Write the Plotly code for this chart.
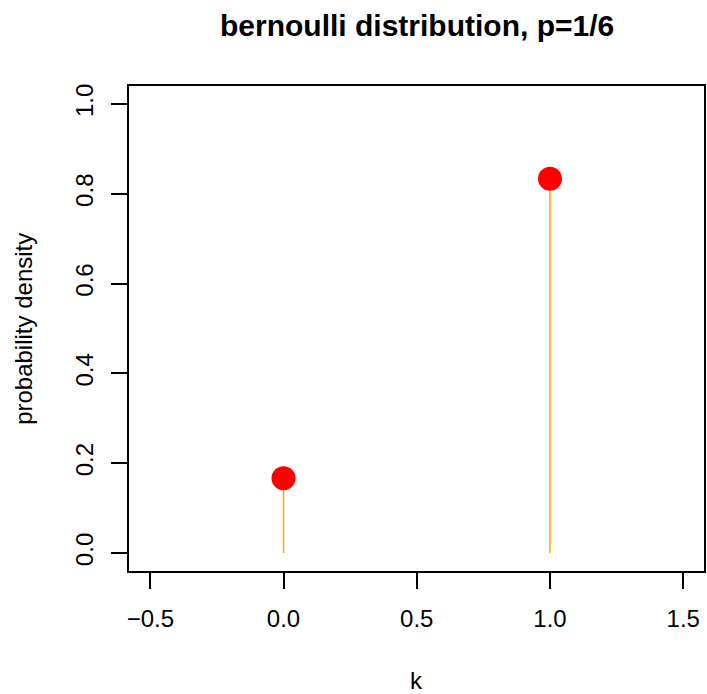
import plotly.graph_objects as go

k_values = [0, 1]
probabilities = [1/6, 5/6]
x_tick_vals = [-0.5, 0.0, 0.5, 1.0, 1.5]
x_tick_text = ["\u22120.5", "0.0", "0.5", "1.0", "1.5"]
y_tick_vals = [0.0, 0.2, 0.4, 0.6, 0.8, 1.0]
y_tick_text = ["0.0", "0.2", "0.4", "0.6", "0.8", "1.0"]

FONT = "Liberation Sans, Arial, Helvetica, sans-serif"

stem_x, stem_y = [], []
for kv, pv in zip(k_values, probabilities):
    stem_x += [kv, kv, None]
    stem_y += [0, pv, None]

fig = go.Figure()
fig.add_trace(go.Scatter(x=stem_x, y=stem_y, mode="lines",
                         line=dict(color="orange", width=1.5),
                         hoverinfo="skip", showlegend=False))
fig.add_trace(go.Scatter(x=k_values, y=probabilities, mode="markers",
                         marker=dict(color="red", size=24, line=dict(width=0)),
                         showlegend=False))

W, H = 707, 694
ml, mr, mt, mb = 129, 1, 86, 123
ph = H - mt - mb

axis_common = dict(showgrid=False, zeroline=False, showline=True, mirror=True,
                   linecolor="black", linewidth=1.5, ticks="outside", ticklen=16,
                   tickwidth=1.5, tickcolor="black",
                   tickfont=dict(family=FONT, size=24, color="black"))

fig.update_layout(
    width=W, height=H,
    margin=dict(l=ml, r=mr, t=mt, b=mb, pad=0),
    plot_bgcolor="white", paper_bgcolor="white",
    xaxis=dict(range=[-0.58, 1.578], tickvals=x_tick_vals, ticktext=x_tick_text,
               ticklabelstandoff=9, **axis_common),
    yaxis=dict(range=[-0.04, 1.04], tickvals=y_tick_vals, ticktext=y_tick_text,
               tickangle=-90, ticklabelstandoff=9, **axis_common),
    annotations=[
        dict(text="<b>bernoulli distribution, p=1/6</b>", xref="paper", yref="paper",
             x=0.5, y=1 + (mt - 25) / ph, xanchor="center", yanchor="middle",
             showarrow=False, font=dict(family=FONT, size=30, color="black")),
        dict(text="k", xref="paper", yref="paper",
             x=0.5, y=-(680 - (H - mb)) / ph, xanchor="center", yanchor="middle",
             showarrow=False, font=dict(family=FONT, size=24, color="black")),
        dict(text="probability density", xref="paper", yref="paper",
             x=-(ml - 23) / (W - ml - mr), y=0.5, xanchor="center", yanchor="middle",
             textangle=-90, showarrow=False,
             font=dict(family=FONT, size=24, color="black")),
    ],
)

fig.write_html("out.html")
